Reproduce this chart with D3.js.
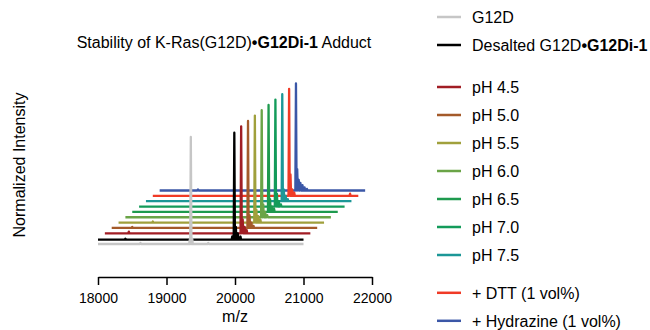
<!DOCTYPE html>
<html>
<head>
<meta charset="utf-8">
<script src="https://cdn.jsdelivr.net/npm/d3@7"></script>
<style>
  body { margin: 0; background: #fff; }
  svg { font-family: "Liberation Sans", Arial, sans-serif; }
</style>
</head>
<body>
<svg id="chart" width="650" height="330"></svg>
<script>
// chart data
const mzTicks = [18000, 19000, 20000, 21000, 22000];
const mzSpan = [18000, 21000];

const seriesNames = ['G12D', 'Desalted G12D', 'pH 4.5', 'pH 5.0', 'pH 5.5', 'pH 6.0',
  'pH 6.5', 'pH 7.0', 'pH 7.5', '+ DTT (1 vol%)', '+ Hydrazine (1 vol%)'];
const seriesBold = ['', '•G12Di-1', '', '', '', '', '', '', '', '', ''];
const seriesColors = ['#c6c6c6', '#000000', '#a11d24', '#a45a2a', '#a0a03c', '#6aa447',
  '#1e9a4e', '#139b5a', '#1c9797', '#f03a26', '#3b57a7'];
// waterfall offsets (Da along x, normalized intensity along y)
const seriesMzShift = [0, 0, 100, 200, 300, 400, 500, 600, 700, 800, 900];
const seriesIntShift = [0, 0.04, 0.10, 0.15, 0.20, 0.25, 0.30, 0.35, 0.40, 0.45, 0.50];
// peaks: [m/z, normalized intensity]
const seriesPeaks = [
  [[18620, 0.01], [19340, 0.04], [19355, 1.0], [19375, 0.05], [19610, 0.01]],
  [[18400, 0.01], [19960, 0.03], [19990, 1.0], [20012, 0.12], [20040, 0.06], [20080, 0.03]],
  [[18350, 0.015], [19990, 1.0], [20012, 0.13], [20040, 0.06], [20070, 0.03]],
  [[18300, 0.01], [19990, 1.0], [20012, 0.12], [20040, 0.05], [20070, 0.02]],
  [[18500, 0.01], [19990, 1.0], [20012, 0.12], [20040, 0.06], [20070, 0.03]],
  [[19990, 1.0], [20012, 0.12], [20040, 0.05], [20070, 0.02]],
  [[19990, 1.0], [20012, 0.12], [20040, 0.05], [20070, 0.03]],
  [[19990, 1.0], [20012, 0.12], [20040, 0.05], [20070, 0.02]],
  [[19990, 1.0], [20012, 0.11], [20040, 0.05], [20070, 0.02]],
  [[19990, 1.0], [20010, 0.2], [20035, 0.06], [20065, 0.03], [20880, 0.02]],
  [[18560, 0.01], [19990, 1.0], [20008, 0.2], [20030, 0.1], [20055, 0.07], [20085, 0.05], [20115, 0.03], [20150, 0.015]]
];

const legendRows = [0, 1, 2.5, 3.5, 4.5, 5.5, 6.5, 7.5, 8.5, 9.85, 10.85];

const svg = d3.select('#chart');

const x = d3.scaleLinear().domain([18000, 22000]).range([98, 372]);
const y = d3.scaleLinear().domain([0, 1]).range([244, 137]);

// spectra, back to front
const line = d3.line()
  .x(d => x(d[0]))
  .y(d => y(d[1]));

function tracePoints(i) {
  const pts = [[mzSpan[0], 0]];
  seriesPeaks[i].forEach(p => {
    pts.push([p[0] - 9, 0], [p[0], p[1]], [p[0] + 9, 0]);
  });
  pts.push([mzSpan[1], 0]);
  return pts.map(p => [p[0] + seriesMzShift[i], p[1] + seriesIntShift[i]]);
}

const order = d3.range(seriesNames.length).reverse();
svg.append('g')
  .selectAll('path')
  .data(order)
  .enter().append('path')
  .attr('d', i => line(tracePoints(i)))
  .attr('fill', 'none')
  .attr('stroke', i => seriesColors[i])
  .attr('stroke-width', 2.3)
  .attr('stroke-linejoin', 'round');

// x axis
const axis = svg.append('g')
  .attr('transform', 'translate(0,277)')
  .call(d3.axisBottom(x).tickValues(mzTicks).tickFormat(d3.format('d')).tickSizeInner(8).tickSizeOuter(0));
axis.select('.domain').attr('stroke-width', 1.5);
axis.selectAll('.tick line').attr('stroke-width', 1.5);
axis.selectAll('.tick text')
  .attr('font-size', 14)
  .attr('font-family', '"Liberation Sans", Arial, sans-serif')
  .attr('fill', '#000')
  .attr('dy', '1.05em');

svg.append('text')
  .attr('x', x(20000))
  .attr('y', 322)
  .attr('text-anchor', 'middle')
  .attr('font-size', 16)
  .text('m/z');

svg.append('text')
  .attr('transform', 'translate(25,165) rotate(-90)')
  .attr('text-anchor', 'middle')
  .attr('font-size', 16)
  .text('Normalized Intensity');

// title
const title = svg.append('text')
  .attr('x', 224)
  .attr('y', 47.5)
  .attr('text-anchor', 'middle')
  .attr('font-size', 16);
title.append('tspan').text('Stability of K-Ras(G12D)');
title.append('tspan').attr('font-weight', 'bold').text('•G12Di-1');
title.append('tspan').text(' Adduct');

// legend
const legend = svg.append('g')
  .selectAll('g')
  .data(d3.range(seriesNames.length))
  .enter().append('g')
  .attr('transform', i => `translate(0,${17 + legendRows[i] * 28})`);

legend.append('line')
  .attr('x1', 437).attr('x2', 461)
  .attr('stroke', i => seriesColors[i])
  .attr('stroke-width', 2.5);

const labels = legend.append('text')
  .attr('x', 472)
  .attr('y', 6)
  .attr('font-size', 16);
labels.append('tspan').text(i => seriesNames[i]);
labels.append('tspan').attr('font-weight', 'bold').text(i => seriesBold[i]);
</script>
</body>
</html>
